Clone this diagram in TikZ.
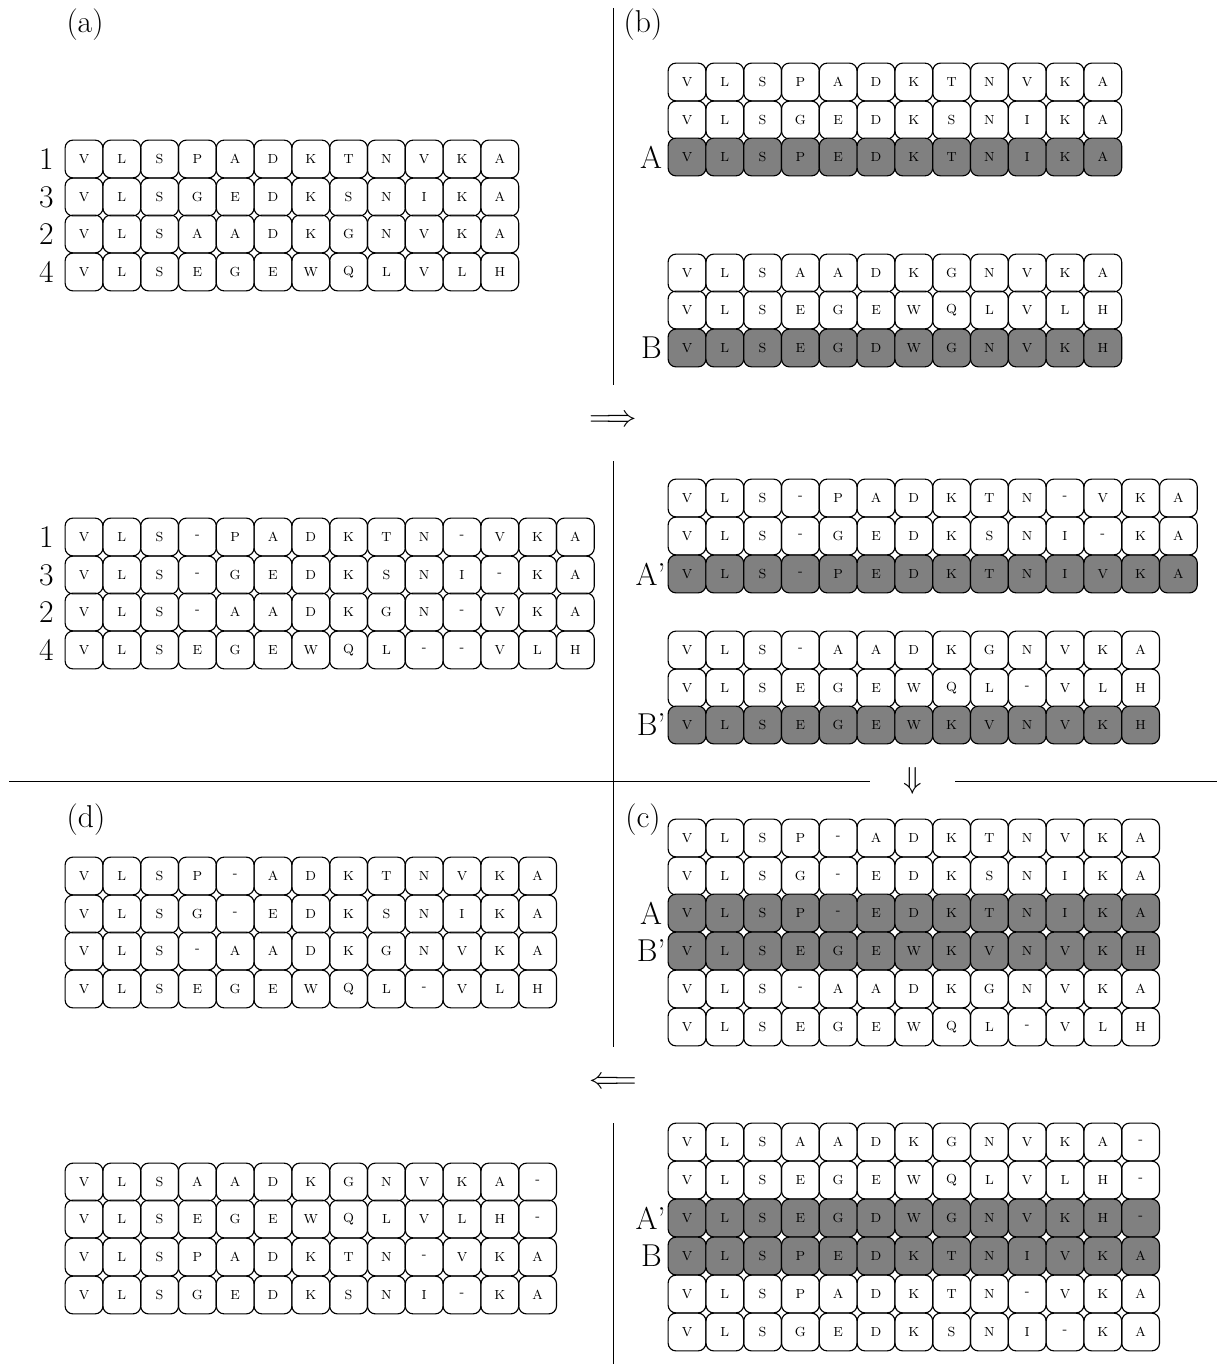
\documentclass[tikz,border=0pt]{standalone}
\usepackage{fontspec}
\usetikzlibrary{positioning}

\tikzset{
  cell/.style={draw, rounded corners=4.5pt, minimum size=0.756cm, inner sep=0pt,
    line width=0.65pt, font=\fontsize{7.5}{8}\selectfont},
  hit/.style={cell, fill=black!50},
  tag/.style={font=\fontsize{18}{20}\selectfont, inner sep=1pt},
  rule/.style={line width=0.5pt},
}
% one row of residues: name, x, y, style, letters
\newcommand{\seqrow}[5]{%
  \foreach \c [count=\i] in {#5}
    \node[#4] (#1-\i) at ({#2+(\i-1)*37.8},#3) {\c};
}

\begin{document}
\begin{tikzpicture}[x=0.02cm, y=-0.02cm]
\useasboundingbox (0,0) rectangle (1217,1364);

% dividers and arrows
\draw[rule] (613,8) -- (613,385);
\node[tag] (fwd) at (613,421) {$\Longrightarrow$};
\draw[rule] (613,461) -- (613,1047);
\draw[rule] (9,781) -- (870,781);
\node[tag] (down) at (913,781) {$\Downarrow$};
\draw[rule] (955,781) -- (1217,781);
\node[tag] (back) at (613,1083) {$\Longleftarrow$};
\draw[rule] (613,1123) -- (613,1364);

% panel labels
\node[tag] (pa) at (85,25) {(a)};
\node[tag] (pb) at (643,25) {(b)};
\node[tag] (pd) at (86,820) {(d)};
\node[tag] (pc) at (643,820) {(c)};

% (a)
\seqrow{a1}{84}{159}{cell}{V,L,S,P,A,D,K,T,N,V,K,A}
\seqrow{a2}{84}{197}{cell}{V,L,S,G,E,D,K,S,N,I,K,A}
\seqrow{a3}{84}{234}{cell}{V,L,S,A,A,D,K,G,N,V,K,A}
\seqrow{a4}{84}{272}{cell}{V,L,S,E,G,E,W,Q,L,V,L,H}
\node[tag, left=5pt of a1-1] (la1) {1};
\node[tag, left=5pt of a2-1] (la2) {3};
\node[tag, left=5pt of a3-1] (la3) {2};
\node[tag, left=5pt of a4-1] (la4) {4};

% (b)
\seqrow{b1}{687}{82}{cell}{V,L,S,P,A,D,K,T,N,V,K,A}
\seqrow{b2}{687}{120}{cell}{V,L,S,G,E,D,K,S,N,I,K,A}
\seqrow{b3}{687}{157}{hit}{V,L,S,P,E,D,K,T,N,I,K,A}
\seqrow{b4}{687}{273}{cell}{V,L,S,A,A,D,K,G,N,V,K,A}
\seqrow{b5}{687}{310}{cell}{V,L,S,E,G,E,W,Q,L,V,L,H}
\seqrow{b6}{687}{348}{hit}{V,L,S,E,G,D,W,G,N,V,K,H}
\node[tag, left=2pt of b3-1] (lb3) {A};
\node[tag, left=2pt of b6-1] (lb6) {B};

% aligned profiles, left
\seqrow{m1}{84}{537}{cell}{V,L,S,-,P,A,D,K,T,N,-,V,K,A}
\seqrow{m2}{84}{575}{cell}{V,L,S,-,G,E,D,K,S,N,I,-,K,A}
\seqrow{m3}{84}{612}{cell}{V,L,S,-,A,A,D,K,G,N,-,V,K,A}
\seqrow{m4}{84}{650}{cell}{V,L,S,E,G,E,W,Q,L,-,-,V,L,H}
\node[tag, left=5pt of m1-1] (lm1) {1};
\node[tag, left=5pt of m2-1] (lm2) {3};
\node[tag, left=5pt of m3-1] (lm3) {2};
\node[tag, left=5pt of m4-1] (lm4) {4};

% aligned profiles, right
\seqrow{n1}{687}{498}{cell}{V,L,S,-,P,A,D,K,T,N,-,V,K,A}
\seqrow{n2}{687}{536}{cell}{V,L,S,-,G,E,D,K,S,N,I,-,K,A}
\seqrow{n3}{687}{574}{hit}{V,L,S,-,P,E,D,K,T,N,I,V,K,A}
\seqrow{n4}{687}{650}{cell}{V,L,S,-,A,A,D,K,G,N,V,K,A}
\seqrow{n5}{687}{688}{cell}{V,L,S,E,G,E,W,Q,L,-,V,L,H}
\seqrow{n6}{687}{725}{hit}{V,L,S,E,G,E,W,K,V,N,V,K,H}
\node[tag, left=0pt of n3-1] (ln3) {A’};
\node[tag, left=0pt of n6-1] (ln6) {B’};

% (c)
\seqrow{c1}{687}{838}{cell}{V,L,S,P,-,A,D,K,T,N,V,K,A}
\seqrow{c2}{687}{876}{cell}{V,L,S,G,-,E,D,K,S,N,I,K,A}
\seqrow{c3}{687}{913}{hit}{V,L,S,P,-,E,D,K,T,N,I,K,A}
\seqrow{c4}{687}{951}{hit}{V,L,S,E,G,E,W,K,V,N,V,K,H}
\seqrow{c5}{687}{989}{cell}{V,L,S,-,A,A,D,K,G,N,V,K,A}
\seqrow{c6}{687}{1027}{cell}{V,L,S,E,G,E,W,Q,L,-,V,L,H}
\node[tag, left=2pt of c3-1] (lc3) {A};
\node[tag, left=0pt of c4-1] (lc4) {B’};

% (d)
\seqrow{d1}{84}{876}{cell}{V,L,S,P,-,A,D,K,T,N,V,K,A}
\seqrow{d2}{84}{914}{cell}{V,L,S,G,-,E,D,K,S,N,I,K,A}
\seqrow{d3}{84}{951}{cell}{V,L,S,-,A,A,D,K,G,N,V,K,A}
\seqrow{d4}{84}{989}{cell}{V,L,S,E,G,E,W,Q,L,-,V,L,H}

% other choice, left
\seqrow{e1}{84}{1182}{cell}{V,L,S,A,A,D,K,G,N,V,K,A,-}
\seqrow{e2}{84}{1219}{cell}{V,L,S,E,G,E,W,Q,L,V,L,H,-}
\seqrow{e3}{84}{1257}{cell}{V,L,S,P,A,D,K,T,N,-,V,K,A}
\seqrow{e4}{84}{1295}{cell}{V,L,S,G,E,D,K,S,N,I,-,K,A}

% other choice, right
\seqrow{f1}{687}{1142}{cell}{V,L,S,A,A,D,K,G,N,V,K,A,-}
\seqrow{f2}{687}{1180}{cell}{V,L,S,E,G,E,W,Q,L,V,L,H,-}
\seqrow{f3}{687}{1218}{hit}{V,L,S,E,G,D,W,G,N,V,K,H,-}
\seqrow{f4}{687}{1256}{hit}{V,L,S,P,E,D,K,T,N,I,V,K,A}
\seqrow{f5}{687}{1294}{cell}{V,L,S,P,A,D,K,T,N,-,V,K,A}
\seqrow{f6}{687}{1332}{cell}{V,L,S,G,E,D,K,S,N,I,-,K,A}
\node[tag, left=0pt of f3-1] (lf3) {A’};
\node[tag, left=2pt of f4-1] (lf4) {B};
\end{tikzpicture}
\end{document}
